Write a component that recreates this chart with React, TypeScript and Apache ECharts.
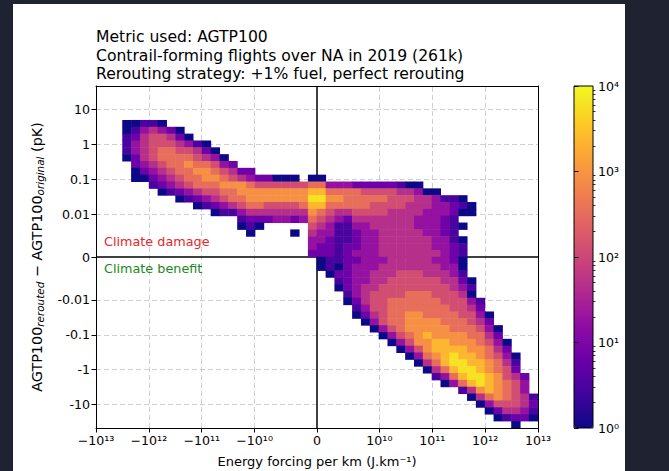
import React, { useEffect, useRef } from "react";
import * as echarts from "echarts";

const W = 669;
const H = 471;
const FONT = "DejaVu Sans";

// ---------- data ----------
const titleLines = [
  "Metric used: AGTP100",
  "Contrail-forming flights over NA in 2019 (261k)",
  "Rerouting strategy: +1% fuel, perfect rerouting",
];

const N_BINS_X = 50;
const N_BINS_Y = 50;
// log-density level per bin, one string per bin row (top row first), starting at rowStartCol; '.' = empty bin
const LEVEL_STEP = 0.42; // log10(count) per level
const rowStartCol = [
  0, 0, 0, 0, 0, 3, 3, 3, 3, 3,
  3, 4, 4, 4, 6, 7, 9, 11, 13, 16,
  16, 17, 24, 24, 24, 25, 25, 26, 27, 27,
  28, 28, 29, 29, 30, 31, 32, 33, 34, 35,
  36, 37, 38, 39, 41, 42, 43, 44, 45, 47,
];
const rowLevels = [
  "", "", "", "", "",
  "00110",
  "0134320",
  "12455420",
  "1345554310",
  "13456655420",
  "024566665430",
  "234566766532",
  "02345667765422",
  "0023456677654322000.00",
  "1234566677765555556633322222100",
  "01234556677777777886666555544300",
  "012345667777777997766666555443110",
  "01234566555568866666555544433210",
  "011344444447654455554444333200",
  "1222332365432444444433321",
  "010.....543113344444333210",
  "0....0.43311233444443321",
  "332112334444443310",
  "322122334444443321",
  "222123334444444321",
  "01122333444443320",
  "01023334444444330",
  "0223344455544431",
  "1233445555554420",
  "0234455555555431",
  "134555566655540",
  "0245566666655531",
  "135566666665542",
  "0245667766665530",
  "035667777666542",
  "035677777666530",
  "03567877776642",
  "03577887776530",
  "0357888877642",
  "0367898876530",
  "046899887641",
  "04689987652",
  "13689987542",
  "0368987653",
  "14787653",
  "04676541",
  "0355542",
  "024431",
  "01220",
  "0",
];

const xTickValues = [-1e13, -1e12, -1e11, -1e10, 0, 1e10, 1e11, 1e12, 1e13];
const xTickLabels = ["\u221210\u00b9\u00b3", "\u221210\u00b9\u00b2", "\u221210\u00b9\u00b9", "\u221210\u00b9\u2070", "0", "10\u00b9\u2070", "10\u00b9\u00b9", "10\u00b9\u00b2", "10\u00b9\u00b3"];
const yTickValues = [10, 1, 0.1, 0.01, 0, -0.01, -0.1, -1, -10];
const yTickLabels = ["10", "1", "0.1", "0.01", "0", "-0.01", "-0.1", "-1", "-10"];
const xLimit = 1e13;
const yLimit = 47;
const cbTickValues = [1, 10, 100, 1000, 10000];
const cbTickLabels = ["10\u2070", "10\u00b9", "10\u00b2", "10\u00b3", "10\u2074"];
const cbMax = 10000;

const PLASMA = [
  "#0d0887", "#41049d", "#6a00a8", "#8f0da4", "#b12a90", "#cc4778",
  "#e16462", "#f2844b", "#fca636", "#fcce25", "#f0f921",
];

// ---------- scales ----------
const symlog = (v: number, lt: number, ls: number) => {
  const a = Math.abs(v);
  if (a <= lt) return (v / lt) * ls;
  return Math.sign(v) * (ls + Math.log10(a / lt));
};
const sx = (v: number) => symlog(v, 1e10, 1.18);
const sy = (v: number) => symlog(v, 0.01, 1.228);

const labelFor = (vals: number[], labels: string[], f: (v: number) => number) => (value: number) => {
  let best = -1;
  let bd = Infinity;
  vals.forEach((v, i) => {
    const d = Math.abs(f(v) - value);
    if (d < bd) { bd = d; best = i; }
  });
  return bd < 1e-6 ? labels[best] : "";
};

function buildHeat() {
  const out: number[][] = [];
  rowLevels.forEach((s, j) => {
    for (let k = 0; k < s.length; k++) {
      const ch = s[k];
      if (ch === "." || ch === " ") continue;
      const col = rowStartCol[j] + k;
      if (col >= N_BINS_X) continue;
      const count = Math.round(Math.pow(10, LEVEL_STEP * Number(ch)));
      out.push([col, j, Math.log10(Math.max(count, 1))]);
    }
  });
  return out;
}

export default function App() {
  const ref = useRef<HTMLDivElement>(null);
  useEffect(() => {
    const chart = echarts.init(ref.current!, undefined, { renderer: "svg", width: W, height: H });
    const xBins = Array.from({ length: N_BINS_X }, (_, i) => String(i));
    const yBins = Array.from({ length: N_BINS_Y }, (_, i) => String(i));
    const xTicks = xTickValues.map(sx);
    const yTicks = yTickValues.map(sy);
    const cbTicks = cbTickValues.map((v) => Math.log10(v));
    const cbMinor: number[] = [];
    for (let k = 0; k < 4; k++) for (let m = 2; m <= 9; m++) cbMinor.push(Math.log10(m * Math.pow(10, k)));
    const txt = { fontFamily: FONT, color: "#000", fontSize: 12.6 };
    const blackLine = { color: "#000", width: 1 };

    const option: any = {
      animation: false,
      backgroundColor: "transparent",
      title: {
        text: titleLines.join("\n"),
        left: 96,
        top: 28,
        padding: 0,
        textStyle: { fontFamily: FONT, fontSize: 15.6, fontWeight: "normal", color: "#000", lineHeight: 18.5 },
      },
      grid: [
        { left: 96, top: 86, width: 442, height: 342, outerBoundsMode: "none", containLabel: false },
        { left: 574, top: 86, width: 19, height: 342, outerBoundsMode: "none", containLabel: false },
      ],
      xAxis: [
        { type: "category", gridIndex: 0, data: xBins, show: false, position: "bottom" },
        {
          type: "value", gridIndex: 0, min: sx(-xLimit), max: sx(xLimit), position: "bottom", z: 5,
          axisLine: { show: true, onZero: false, lineStyle: blackLine },
          axisTick: { show: true, inside: false, length: 4.5, customValues: xTicks, lineStyle: blackLine },
          axisLabel: { show: true, customValues: xTicks, formatter: labelFor(xTickValues, xTickLabels, sx), margin: 6, ...txt },
          splitLine: { show: false },
          name: "Energy forcing per km (J.km\u207b\u00b9)",
          nameLocation: "middle",
          nameGap: 27,
          nameTextStyle: { ...txt, fontSize: 13 },
        },
        {
          type: "value", gridIndex: 0, min: sx(-xLimit), max: sx(xLimit), position: "top", z: 5,
          axisLine: { show: true, onZero: false, lineStyle: blackLine },
          axisTick: { show: false }, axisLabel: { show: false }, splitLine: { show: false },
        },
        { type: "value", gridIndex: 1, min: 0, max: 1, show: false },
      ],
      yAxis: [
        { type: "category", gridIndex: 0, data: yBins, show: false, inverse: true, position: "left" },
        {
          type: "value", gridIndex: 0, min: sy(-yLimit), max: sy(yLimit), position: "left", z: 5,
          axisLine: { show: true, onZero: false, lineStyle: blackLine },
          axisTick: { show: true, inside: false, length: 4.5, customValues: yTicks, lineStyle: blackLine },
          axisLabel: { show: true, customValues: yTicks, formatter: labelFor(yTickValues, yTickLabels, sy), margin: 6, ...txt },
          splitLine: { show: false },
          name: "{b|AGTP100}{s|rerouted}{b| \u2212 AGTP100}{s|original}{b| (pK)}",
          nameLocation: "middle",
          nameRotate: 90,
          nameGap: 51,
          nameTextStyle: {
            ...txt,
            rich: {
              b: { fontFamily: FONT, fontSize: 14.4, color: "#000", lineHeight: 17 },
              s: { fontFamily: FONT, fontSize: 10.4, fontStyle: "italic", color: "#000", lineHeight: 11, verticalAlign: "bottom" },
            },
          },
        },
        {
          type: "value", gridIndex: 0, min: sy(-yLimit), max: sy(yLimit), position: "right", z: 5,
          axisLine: { show: true, onZero: false, lineStyle: blackLine },
          axisTick: { show: false }, axisLabel: { show: false }, splitLine: { show: false },
        },
        {
          type: "value", gridIndex: 1, min: 0, max: Math.log10(cbMax), position: "right", z: 5,
          axisLine: { show: false },
          axisTick: { show: true, inside: false, length: 4.5, customValues: cbTicks, lineStyle: blackLine },
          axisLabel: { show: true, customValues: cbTicks, formatter: labelFor(cbTickValues, cbTickLabels, (v) => Math.log10(v)), margin: 5, ...txt },
          splitLine: { show: false },
        },
        {
          type: "value", gridIndex: 1, min: 0, max: Math.log10(cbMax), position: "right", z: 5,
          axisLine: { show: false },
          axisTick: { show: true, inside: false, length: 2.5, customValues: cbMinor, lineStyle: { color: "#000", width: 0.8 } },
          axisLabel: { show: false },
          splitLine: { show: false },
        },
      ],
      visualMap: {
        type: "continuous",
        min: 0,
        max: Math.log10(cbMax),
        dimension: 2,
        seriesIndex: 2,
        calculable: false,
        hoverLink: false,
        orient: "vertical",
        left: 574,
        top: 86,
        padding: 0,
        itemWidth: 19,
        itemHeight: 342,
        inRange: { color: PLASMA },
      },
      graphic: [
        { type: "rect", z: 100, silent: true, shape: { x: 574, y: 86, width: 19, height: 342 }, style: { fill: "none", stroke: "#000", lineWidth: 1 } },
        { type: "text", z: 100, left: 104, top: 235, style: { text: "Climate damage", fill: "#e8262a", font: `12.8px '${FONT}'` } },
        { type: "text", z: 100, left: 104, top: 262, style: { text: "Climate benefit", fill: "#1a8a1a", font: `12.8px '${FONT}'` } },
      ],
      series: [
        {
          type: "line", xAxisIndex: 1, yAxisIndex: 1, data: [], z: 1, silent: true,
          markLine: {
            z: 1,
            silent: true, symbol: ["none", "none"], label: { show: false },
            lineStyle: { color: "#c4c4c4", type: [5, 3], width: 0.8 },
            data: [
              ...xTickValues.filter((v) => v !== 0 && Math.abs(v) < xLimit).map((v) => ({ xAxis: sx(v) })),
              ...yTickValues.filter((v) => v !== 0).map((v) => ({ yAxis: sy(v) })),
            ],
          },
        },
        {
          type: "line", xAxisIndex: 1, yAxisIndex: 1, data: [], z: 1, silent: true,
          markLine: {
            z: 1,
            silent: true, symbol: ["none", "none"], label: { show: false },
            lineStyle: { color: "#000", type: "solid", width: 1.5 },
            data: [{ xAxis: sx(0) }, { yAxis: sy(0) }],
          },
        },
        {
          type: "heatmap", xAxisIndex: 0, yAxisIndex: 0, z: 3, silent: true,
          data: buildHeat(),
          itemStyle: { borderWidth: 0 },
          emphasis: { disabled: true },
        },
      ],
    };
    chart.setOption(option);
    return () => chart.dispose();
  }, []);

  return (
    <div style={{ position: "fixed", left: 0, top: 0, width: W, height: H, background: "#1f2230", overflow: "hidden" }}>
      <div style={{ position: "absolute", left: 13, top: 4, width: 612, height: 467, background: "#fff" }} />
      <div ref={ref} style={{ position: "absolute", left: 0, top: 0, width: W, height: H }} />
    </div>
  );
}
